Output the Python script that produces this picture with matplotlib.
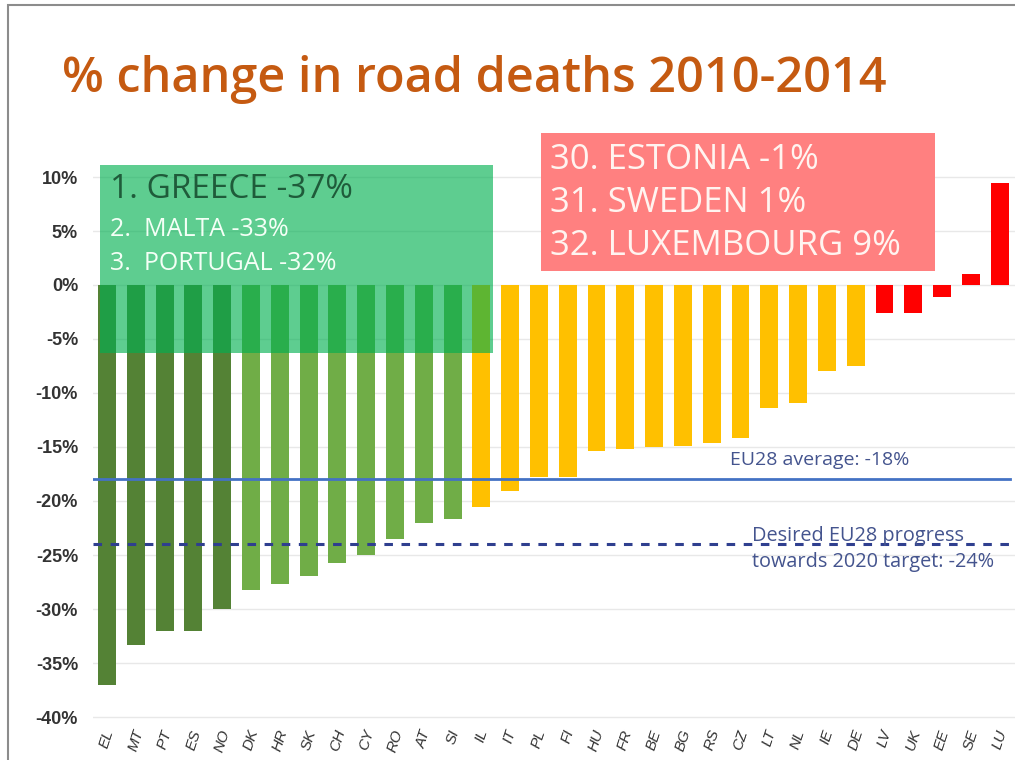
import matplotlib.pyplot as plt
from matplotlib.patches import Rectangle
import numpy as np

countries = ['EL', 'MT', 'PT', 'ES', 'NO', 'DK', 'HR', 'SK', 'CH', 'CY', 'RO', 'AT', 'SI',
             'IL', 'IT', 'PL', 'FI', 'HU', 'FR', 'BE', 'BG', 'RS', 'CZ', 'LT', 'NL', 'IE', 'DE',
             'LV', 'UK', 'EE', 'SE', 'LU']
change = [-37.0, -33.3, -32.0, -32.0, -30.0, -28.2, -27.7, -26.9, -25.7, -25.0, -23.5, -22.0, -21.7,
          -20.6, -19.1, -17.8, -17.8, -15.4, -15.2, -15.0, -14.9, -14.6, -14.2, -11.4, -10.9, -8.0, -7.5,
          -2.6, -2.6, -1.1, 1.0, 9.4]
groups = [0] * 5 + [1] * 8 + [2] * 14 + [3] * 5
group_colors = ['#548235', '#70AD47', '#FFC000', '#FF0000']
eu_average = -18
eu_target = -24

top3 = ['1. GREECE -37%', '2.  MALTA -33%', '3.  PORTUGAL -32%']
bottom3 = ['30. ESTONIA -1%', '31. SWEDEN 1%', '32. LUXEMBOURG 9%']

fig = plt.figure(figsize=(10.15, 7.6), dpi=100)
ax = fig.add_axes([92.6 / 1015, 37.6 / 760, 1 - 92.6 / 1015, (722.4 - 155.4) / 760])

x = np.arange(len(countries))
ax.bar(x, change, width=0.62, color=[group_colors[g] for g in groups], zorder=2)

ax.set_xlim(-0.5, 31.53)
ax.set_ylim(-40.5, 12)
ax.set_yticks(np.arange(-40, 11, 5))
ax.set_yticklabels(['%d%%' % v for v in np.arange(-40, 11, 5)], fontsize=13,
                   fontweight='bold', color='#333333', family='Liberation Sans')
ax.set_xticks(x)
ax.set_xticklabels(countries, rotation=72, fontsize=11, style='italic',
                   color='#333333', family='Liberation Sans')
ax.tick_params(axis='y', length=0, pad=10.5)
ax.tick_params(axis='x', length=0, pad=4)
ax.grid(axis='y', color='#E8E8E8', linewidth=1, zorder=0)
for s in ax.spines.values():
    s.set_visible(False)

# reference lines
ax.axhline(eu_average, xmin=0.0, xmax=0.995, color='#4472C4', linewidth=2, zorder=3)
ax.axhline(eu_target, xmin=0.0, xmax=0.995, color='#2F3F8F', linewidth=2.2,
           linestyle=(0, (2.8, 2.8)), zorder=3)
ax.text(21.65, -16.2, 'EU28 average: -18%', fontsize=14, color='#44548E',
        family='Open Sans', va='center')
ax.text(22.4, -24.4, 'Desired EU28 progress\ntowards 2020 target: -24%', fontsize=14.3,
        color='#44548E', family='Open Sans', va='center', linespacing=1.4, zorder=4)

# green highlight box
ax.add_patch(Rectangle((-0.25, -6.3), 13.65, 17.4, facecolor='#00B050', alpha=0.63,
                       edgecolor='none', zorder=4))
ax.text(0.1, 8.8, top3[0], fontsize=24, color='#1F5B3A', family='Open Sans',
        va='center', zorder=5)
ax.text(0.1, 5.1, top3[1], fontsize=18, color='#F4FFF6', family='Open Sans',
        va='center', zorder=5)
ax.text(0.1, 2.0, top3[2], fontsize=18, color='#F4FFF6', family='Open Sans',
        va='center', zorder=5)

# red highlight box
ax.add_patch(Rectangle((15.07, 1.3), 13.68, 12.8, facecolor='#FF8080',
                       edgecolor='none', zorder=4, clip_on=False))
for i, t in enumerate(bottom3):
    ax.text(15.4, 11.6 - i * 4.0, t, fontsize=25, color='#FFF4F0', family='Open Sans',
            va='center', zorder=5)

fig.text(62 / 1015, 1 - 80 / 760, '% change in road deaths 2010-2014', fontsize=35,
         color='#C55A11', family='Open Sans', fontweight='semibold', va='center')

# slide frame
fig.patches.append(Rectangle((8 / 1015, -0.1), 1.2, 1.1 - 5 / 760, transform=fig.transFigure,
                             facecolor='none', edgecolor='#8C8C8C', linewidth=1.5))

fig.savefig('out.png', dpi=100)
